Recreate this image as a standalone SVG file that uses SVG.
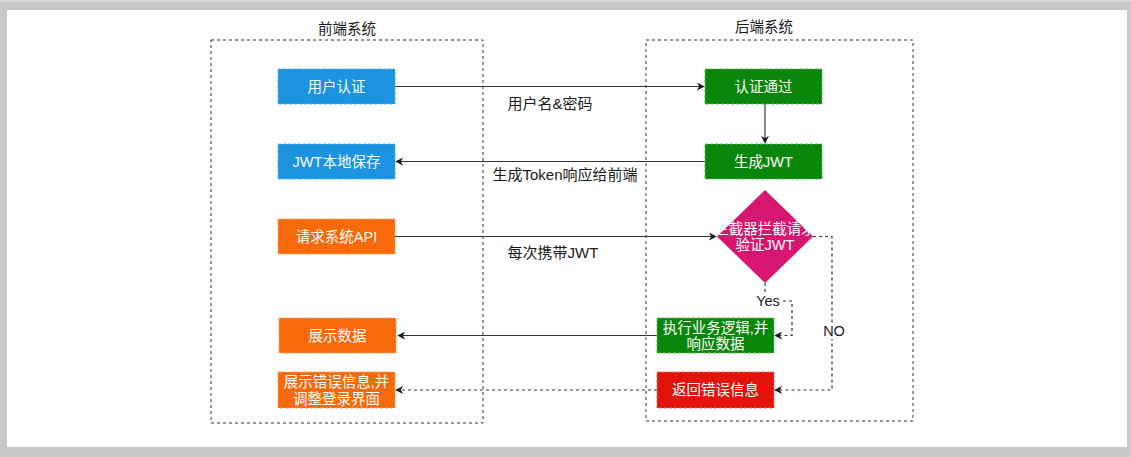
<svg xmlns="http://www.w3.org/2000/svg" width="1131" height="457" viewBox="0 0 1131 457">
<style>
  .t{font-family:"Liberation Sans","Noto Sans CJK SC",sans-serif;font-size:14.5px;text-anchor:middle;dominant-baseline:central}
  .e{font-size:15px}
  .w{fill:#ffffff}
  .k{fill:#1a1a1a}
  .node{stroke-dasharray:3 2;stroke-width:1}
  .grp{fill:none;stroke:#333;stroke-width:1;stroke-dasharray:3 3}
  .c{fill:none;stroke:#333;stroke-width:1.2}
  .d{stroke-dasharray:3 3}
</style>
<defs>
  <marker id="ah" viewBox="0 0 10 10" refX="9" refY="5" markerWidth="8" markerHeight="8" orient="auto" markerUnits="userSpaceOnUse">
    <path d="M0,0 L10,5 L0,10 L3,5 Z" fill="#1a1a1a"/>
  </marker>
</defs>
<rect x="0" y="0" width="1131" height="457" fill="#c8c8c8"/>
<rect x="0" y="0" width="1131" height="2" fill="#dcdcdc"/>
<rect x="7" y="10" width="1120" height="437" fill="#ffffff"/>

<g id="frontend">
  <rect class="grp" x="211" y="40" width="272" height="383"/>
  <text class="t k" x="347" y="29">前端系统</text>
</g>
<g id="backend">
  <rect class="grp" x="646" y="40" width="267" height="381"/>
  <text class="t k" x="764" y="27">后端系统</text>
</g>

<g id="connectors">
  <path class="c" d="M395,86.5 H704" marker-end="url(#ah)"/>
  <text class="t e k" x="550" y="103">用户名&amp;密码</text>
  <path class="c" d="M765,104 V143" marker-end="url(#ah)"/>
  <path class="c" d="M705,161.5 H396" marker-end="url(#ah)"/>
  <text class="t e k" x="565" y="174">生成Token响应给前端</text>
  <path class="c" d="M395,236.5 H716" marker-end="url(#ah)"/>
  <text class="t e k" x="553" y="252">每次携带JWT</text>
  <path class="c d" d="M765,283 V301 H792 V335.5 H775" marker-end="url(#ah)"/>
  <rect x="756" y="294" width="26" height="15" fill="#ffffff"/>
  <text class="t k" x="768" y="301">Yes</text>
  <path class="c d" d="M813,236.5 H832 V390 H775" marker-end="url(#ah)"/>
  <rect x="823" y="323" width="24" height="16" fill="#ffffff"/>
  <text class="t k" x="834" y="331">NO</text>
  <path class="c" d="M657,335.5 H398" marker-end="url(#ah)"/>
  <path class="c d" d="M657,390 H396" marker-end="url(#ah)"/>
</g>

<g id="n-auth">
  <rect class="node" x="278" y="69" width="117" height="35" fill="#1b93e0" stroke="#5ab0ea"/>
  <text class="t w" x="336.5" y="86.5">用户认证</text>
</g>
<g id="n-authok">
  <rect class="node" x="705" y="69" width="117" height="35" fill="#0a860a" stroke="#5fb55f"/>
  <text class="t w" x="763.5" y="86.5">认证通过</text>
</g>
<g id="n-genjwt">
  <rect class="node" x="705" y="144" width="117" height="35" fill="#0a860a" stroke="#5fb55f"/>
  <text class="t w" x="763.5" y="161.5">生成JWT</text>
</g>
<g id="n-save">
  <rect class="node" x="278" y="144" width="117" height="35" fill="#1b93e0" stroke="#5ab0ea"/>
  <text class="t w" x="336.5" y="161.5">JWT本地保存</text>
</g>
<g id="n-req">
  <rect class="node" x="278" y="219" width="117" height="35" fill="#f76a0c" stroke="#f9a060"/>
  <text class="t w" x="336.5" y="236.5">请求系统API</text>
</g>
<g id="n-check">
  <path d="M765,190 L813,236.5 L765,283 L717,236.5 Z" fill="#d6166f"/>
  <text class="t w" x="765" y="229">拦截器拦截请求</text>
  <text class="t w" x="765" y="245">验证JWT</text>
</g>
<g id="n-exec">
  <rect class="node" x="657" y="318" width="117" height="35" fill="#0a860a" stroke="#5fb55f"/>
  <text class="t w" x="715.5" y="327.5">执行业务逻辑,并</text>
  <text class="t w" x="715.5" y="344">响应数据</text>
</g>
<g id="n-err">
  <rect class="node" x="657" y="372" width="117" height="36" fill="#e0140a" stroke="#f06a60"/>
  <text class="t w" x="715.5" y="390">返回错误信息</text>
</g>
<g id="n-show">
  <rect class="node" x="279" y="318" width="117" height="35" fill="#f76a0c" stroke="#f9a060"/>
  <text class="t w" x="337.5" y="335.5">展示数据</text>
</g>
<g id="n-showerr">
  <rect class="node" x="278" y="372" width="117" height="36" fill="#f76a0c" stroke="#f9a060"/>
  <text class="t w" x="336.5" y="381.5">展示错误信息,并</text>
  <text class="t w" x="336.5" y="398.5">调整登录界面</text>
</g>
</svg>
